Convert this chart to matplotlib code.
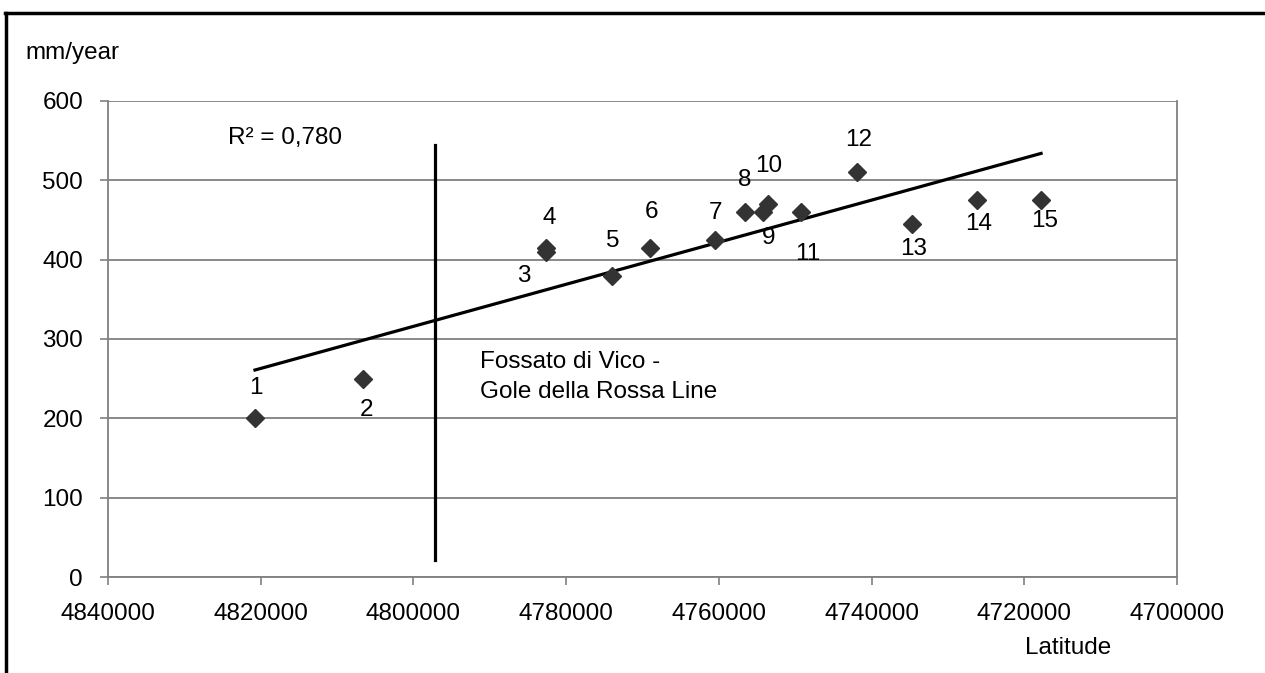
import numpy as np
import matplotlib.pyplot as plt
from matplotlib.lines import Line2D
from matplotlib.ticker import StrMethodFormatter

plt.rcParams['font.family'] = ['Liberation Sans', 'DejaVu Sans']

# dati
labels = ['1', '2', '3', '4', '5', '6', '7', '8', '9', '10', '11', '12', '13', '14', '15']
latitude = [4820750, 4806600, 4782650, 4782600, 4773950, 4769000, 4760500, 4756600,
            4754250, 4753550, 4749250, 4741850, 4734650, 4726250, 4717800]
rate = [200, 250, 410, 415, 380, 415, 425, 460, 460, 470, 460, 510, 445, 475, 475]

# linea Fossato di Vico - Gole della Rossa
fault_lat = 4797200
fault_range = [22, 545]

# posizione delle etichette (pixel rispetto al punto)
label_offsets = [(1, 30), (3, -31), (-22, -24), (3, 30), (0, 35), (1, 36), (0, 27), (0, 32),
                 (6, -26), (1, 38), (7, -42), (1, 32), (1, -25), (2, -24), (4, -21)]

fig = plt.figure(figsize=(12.65, 6.73), dpi=100)
ax = fig.add_axes([108 / 1265, 1 - 577 / 673, (1177 - 108) / 1265, (577 - 101) / 673])

grey = '#808080'
fs = 17.5

ax.set_xlim(4840000, 4700000)
ax.set_ylim(0, 600)
ax.set_xticks(np.arange(4840000, 4699999, -20000))
ax.set_yticks(np.arange(0, 601, 100))
ax.xaxis.set_major_formatter(StrMethodFormatter('{x:.0f}'))
ax.yaxis.grid(True, color=grey, linewidth=1.3)
ax.set_axisbelow(True)
for side in ['left', 'right', 'bottom']:
    ax.spines[side].set_color(grey)
    ax.spines[side].set_linewidth(1.3)
ax.spines['top'].set_visible(False)
ax.tick_params(axis='both', direction='out', length=6, width=1.2, color=grey, labelsize=fs)
ax.tick_params(axis='y', pad=12)
ax.tick_params(axis='x', pad=13)

# retta di regressione
coef = np.polyfit(latitude, rate, 1)
xs = np.array([latitude[0], latitude[-1]])
ax.plot(xs, np.polyval(coef, xs), color='black', linewidth=2.3, zorder=3)

ax.plot(latitude, rate, linestyle='none', marker='D', markersize=9.2,
        color='#333333', zorder=4)

for lab, xv, yv, off in zip(labels, latitude, rate, label_offsets):
    ax.annotate(lab, (xv, yv), xytext=off, textcoords='offset pixels',
                ha='center', va='center', fontsize=fs)

ax.plot([fault_lat, fault_lat], fault_range, color='black', linewidth=2.3, zorder=3)

fig.text(285 / 1265, 1 - 138 / 673, 'R² = 0,780', ha='center', va='center', fontsize=fs)
fig.text(480 / 1265, 1 - 377 / 673, 'Fossato di Vico -\nGole della Rossa Line',
         ha='left', va='center', fontsize=fs, linespacing=1.45)
fig.text(25 / 1265, 1 - 53 / 673, 'mm/year', ha='left', va='center', fontsize=fs)
fig.text(1068 / 1265, 1 - 648 / 673, 'Latitude', ha='center', va='center', fontsize=fs)

# cornice esterna
fig.add_artist(Line2D([5 / 1265, 1], [1 - 13 / 673, 1 - 13 / 673], transform=fig.transFigure,
                      color='black', linewidth=2.5))
fig.add_artist(Line2D([6 / 1265, 6 / 1265], [0, 1 - 13 / 673], transform=fig.transFigure,
                      color='black', linewidth=2.5))

fig.savefig('out.png', dpi=100)
